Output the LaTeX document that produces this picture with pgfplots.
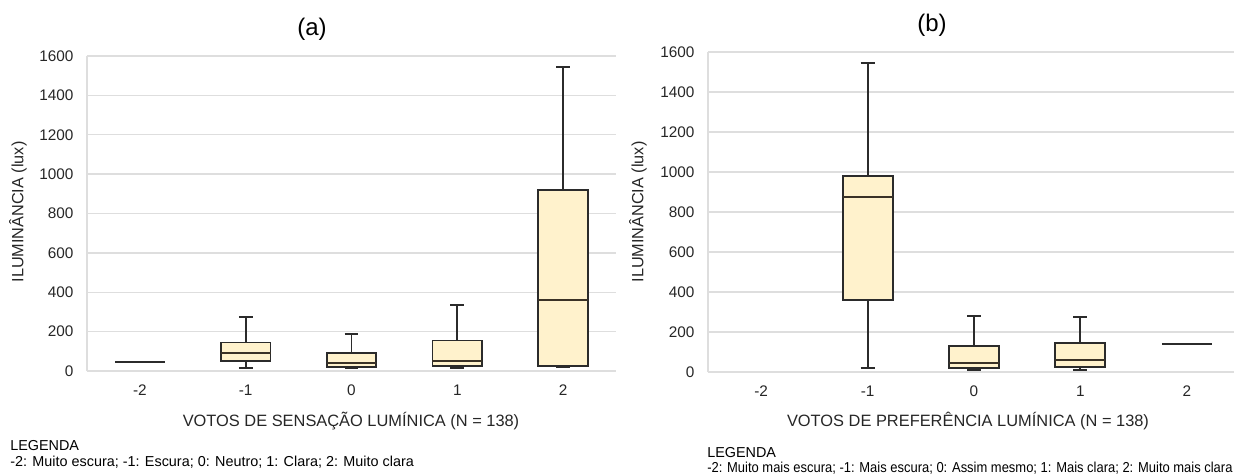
\documentclass[border=0pt]{standalone}
\usepackage{fontspec}
\setmainfont{Liberation Sans}
\usepackage{pgfplots}
\pgfplotsset{compat=1.18}
\definecolor{gridgray}{HTML}{DEDEDE}
\definecolor{boxfill}{HTML}{FFF2CC}
\definecolor{boxedge}{HTML}{2B2B2B}
\definecolor{medcol}{HTML}{3A3226}
\pgfplotsset{
  myaxis/.style={
    scale only axis, anchor=south west,
    xmin=-2.5, xmax=2.5, ymin=0, ymax=1600,
    xtick={-2,-1,0,1,2}, xticklabels={-2,-1,0,1,2},
    ytick={0,200,...,1600},
    axis lines=left,
    axis line style={draw=gridgray, line width=1pt, -},
    ymajorgrids, grid style={draw=gridgray, line width=1pt},
    major tick length=0pt,
    tick label style={font=\fontsize{11.5}{13}\selectfont, text=black!85},
    /pgf/number format/assume math mode=true,
    /pgf/number format/set thousands separator={},
    yticklabel style={anchor=east, inner sep=0pt, xshift=-10pt},
    xticklabel style={anchor=north, inner sep=0pt, yshift=-10.5pt},
    clip=false,
  },
  whisk/.style={draw=boxedge, line width=1.4pt, mark=none},
  boxst/.style={draw=boxedge, fill=boxfill, line width=1.4pt, mark=none},
  medst/.style={draw=medcol, line width=1.4pt, mark=none},
}
% \boxat{position}{min}{Q1}{median}{Q3}{max}
\newcommand{\boxat}[6]{%
  \pgfmathsetmacro\bxL{#1-0.235}\pgfmathsetmacro\bxR{#1+0.235}%
  \pgfmathsetmacro\cpL{#1-0.065}\pgfmathsetmacro\cpR{#1+0.065}%
  \addplot[whisk] coordinates {(#1,#5) (#1,#6)};
  \addplot[whisk] coordinates {(#1,#2) (#1,#3)};
  \addplot[whisk] coordinates {(\cpL,#6) (\cpR,#6)};
  \addplot[whisk] coordinates {(\cpL,#2) (\cpR,#2)};
  \addplot[boxst] coordinates {(\bxL,#3) (\bxR,#3) (\bxR,#5) (\bxL,#5)} -- cycle;
  \addplot[medst] coordinates {(\bxL,#4) (\bxR,#4)};
}
\begin{document}
\begin{tikzpicture}
\useasboundingbox (0,0) rectangle (925.5pt,-356.25pt);
% ---------- (a)
\begin{axis}[myaxis, at={(65.25pt,-278.25pt)}, width=396.75pt, height=236.25pt]
\addplot[whisk, line width=1.8pt] coordinates {(-2.235,47) (-1.765,47)};
\boxat{-1}{14}{52}{93}{145}{275}
\boxat{0}{14}{22}{42}{93}{187}
\boxat{1}{14}{25}{49}{155}{336}
\boxat{2}{22}{25}{360}{920}{1544}
\end{axis}
% ---------- (b)
\begin{axis}[myaxis, at={(531pt,-279pt)}, width=399pt, height=240pt]
\boxat{-1}{20}{362}{873}{978}{1545}
\boxat{0}{12}{20}{45}{130}{282}
\boxat{1}{12}{25}{62}{143}{275}
\addplot[whisk, line width=1.8pt] coordinates {(1.765,140) (2.235,140)};
\end{axis}
% ---------- texts
\node[font=\fontsize{18}{21}\selectfont] at (234pt,-21.75pt) {(a)};
\node[font=\fontsize{18}{21}\selectfont] at (699pt,-18.75pt) {(b)};
\node[rotate=90, font=\fontsize{12.2}{14}\selectfont, text=black!85] at (13.5pt,-159pt) {ILUMINÂNCIA (lux)};
\node[rotate=90, font=\fontsize{12.2}{14}\selectfont, text=black!85] at (478.5pt,-159pt) {ILUMINÂNCIA (lux)};
\node[font=\fontsize{12.3}{14}\selectfont, text=black!85] at (263.25pt,-315.75pt) {VOTOS DE SENSAÇÃO LUMÍNICA (N = 138)};
\node[font=\fontsize{12.3}{14}\selectfont, text=black!85] at (726pt,-315.75pt) {VOTOS DE PREFERÊNCIA LUMÍNICA (N = 138)};
\node[anchor=west, inner sep=0pt, font=\fontsize{10.8}{12}\selectfont] at (7.5pt,-334pt) {LEGENDA};
\node[anchor=west, inner sep=0pt, font=\fontsize{10.8}{12}\selectfont] at (7.5pt,-346.5pt) {-2: Muito escura; -1: Escura; 0: Neutro; 1: Clara; 2: Muito clara};
\node[anchor=west, inner sep=0pt, font=\fontsize{10.8}{12}\selectfont] at (530.25pt,-339.5pt) {LEGENDA};
\node[anchor=west, inner sep=0pt, xscale=0.9, font=\fontsize{10.8}{12}\selectfont] at (530.25pt,-351pt) {-2: Muito mais escura; -1: Mais escura; 0: Assim mesmo; 1: Mais clara; 2: Muito mais clara};
\end{tikzpicture}
\end{document}
